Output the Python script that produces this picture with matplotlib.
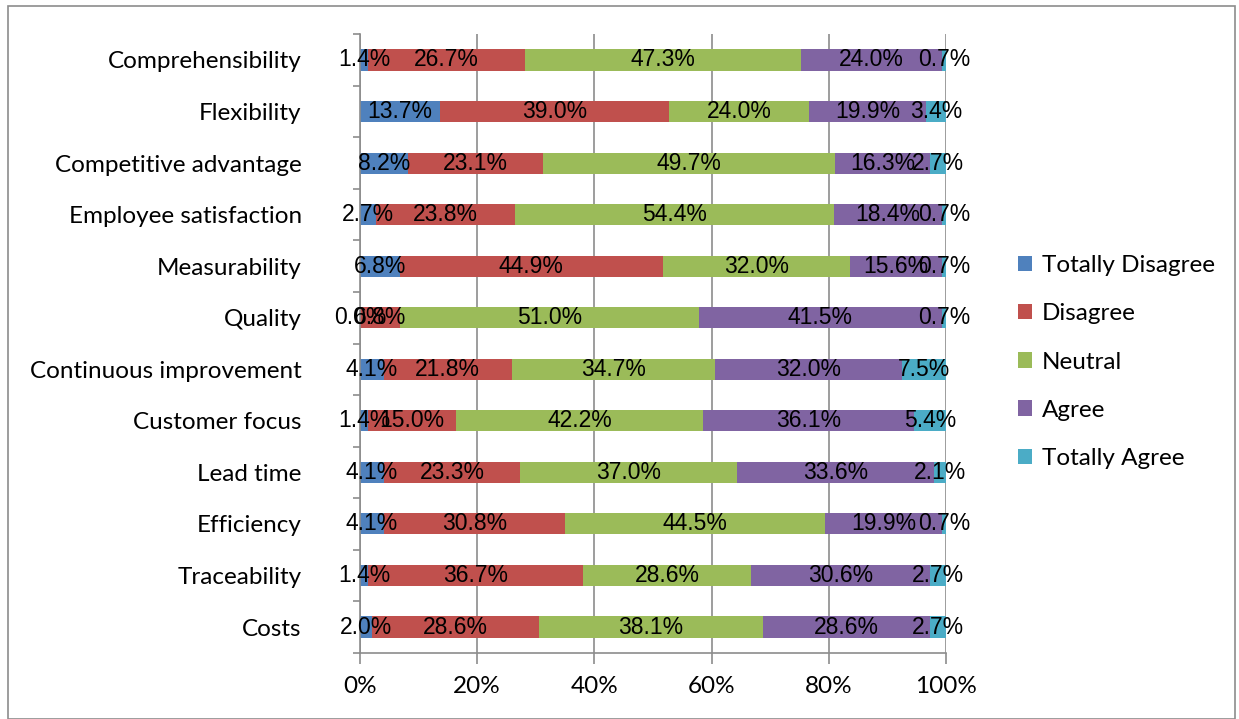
import numpy as np
import matplotlib
matplotlib.use("Agg")
import matplotlib.pyplot as plt
from matplotlib.patches import Rectangle

plt.rcParams['font.family'] = ['Lato', 'DejaVu Sans']

# datos del gráfico (de arriba hacia abajo)
categorias = ["Comprehensibility", "Flexibility", "Competitive advantage",
              "Employee satisfaction", "Measurability", "Quality",
              "Continuous improvement", "Customer focus", "Lead time",
              "Efficiency", "Traceability", "Costs"]
series = ["Totally Disagree", "Disagree", "Neutral", "Agree", "Totally Agree"]
totally_disagree = [1.4, 13.7, 8.2, 2.7, 6.8, 0.0, 4.1, 1.4, 4.1, 4.1, 1.4, 2.0]
disagree = [26.7, 39.0, 23.1, 23.8, 44.9, 6.8, 21.8, 15.0, 23.3, 30.8, 36.7, 28.6]
neutral = [47.3, 24.0, 49.7, 54.4, 32.0, 51.0, 34.7, 42.2, 37.0, 44.5, 28.6, 38.1]
agree = [24.0, 19.9, 16.3, 18.4, 15.6, 41.5, 32.0, 36.1, 33.6, 19.9, 30.6, 28.6]
totally_agree = [0.7, 3.4, 2.7, 0.7, 0.7, 0.7, 7.5, 5.4, 2.1, 0.7, 2.7, 2.7]
colores = ["#4F81BD", "#C0504D", "#9BBB59", "#8064A2", "#4BACC6"]
xticks_lbl = ["0%", "20%", "40%", "60%", "80%", "100%"]

valores = np.array([totally_disagree, disagree, neutral, agree, totally_agree])
porcentajes = valores / valores.sum(axis=0) * 100  # barras al 100%

fig = plt.figure(figsize=(12.39, 7.19), dpi=100)
ax = fig.add_axes([0.2906, 0.0921, 0.7635 - 0.2906, 0.9524 - 0.0921])

# marco exterior
fig.patches.append(Rectangle((8 / 1239, 0), 1 - 12 / 1239, 1 - 6 / 719,
                             transform=fig.transFigure, fill=False,
                             edgecolor="#8C8C8C", linewidth=1.2))

y = np.arange(len(categorias))
izq = np.zeros(len(categorias))
for i, nombre in enumerate(series):
    ax.barh(y, porcentajes[i], left=izq, height=0.41, color=colores[i],
            label=nombre, zorder=3)
    for yy, l, w, v in zip(y, izq, porcentajes[i], valores[i]):
        ax.text(l + w / 2, yy, f"{v:.1f}%", ha="center", va="center",
                fontsize=16.5, family="Liberation Sans", color="black",
                zorder=5, clip_on=False)
    izq += porcentajes[i]

ax.set_xlim(0, 100)
ax.set_ylim(len(categorias) - 0.5, -0.5)
ax.set_xticks(np.arange(0, 101, 20))
ax.set_xticklabels(xticks_lbl, fontsize=17.5)
ax.set_yticks(y)
ax.set_yticklabels(categorias, fontsize=17.5)
ax.set_yticks(np.arange(-0.5, len(categorias), 1), minor=True)
ax.tick_params(axis="y", which="major", length=0, pad=42)
ax.tick_params(axis="y", which="minor", length=5, color="#8C8C8C", width=1.2)
ax.tick_params(axis="x", length=8, color="#8C8C8C", width=1.2, pad=9)
ax.grid(axis="x", color="#8C8C8C", linewidth=1.2, zorder=0)
for s in ["top", "right"]:
    ax.spines[s].set_visible(False)
for s in ["left", "bottom"]:
    ax.spines[s].set_color("#8C8C8C")
    ax.spines[s].set_linewidth(1.2)
    ax.spines[s].set_zorder(4)

ax.legend(loc="center left", bbox_to_anchor=(1.085, 0.47), frameon=False,
          fontsize=17.5, handlelength=0.6, handleheight=0.6, handletextpad=0.4,
          labelspacing=1.12)

fig.savefig("out.png", dpi=100)
